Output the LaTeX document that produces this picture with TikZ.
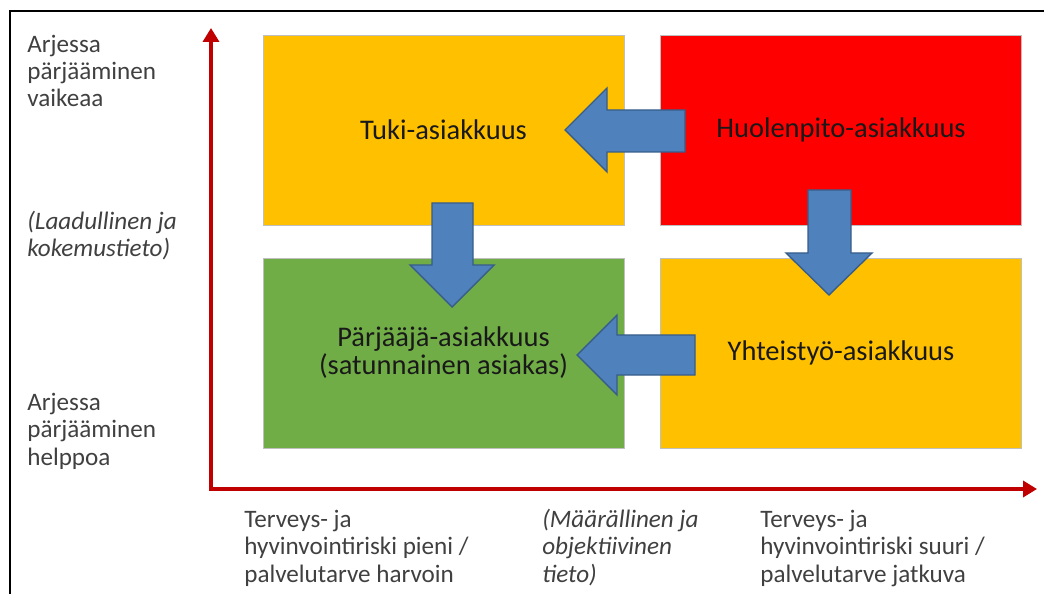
\documentclass[tikz,border=0pt]{standalone}
\usepackage{fontspec}
\setmainfont{Carlito}
\usetikzlibrary{arrows.meta}

\definecolor{oranssi}{HTML}{FFC000}
\definecolor{punainen}{HTML}{FF0000}
\definecolor{vihrea}{HTML}{70AD47}
\definecolor{nuolisini}{HTML}{4F81BD}
\definecolor{nuolireuna}{HTML}{385D8A}
\definecolor{akselipuna}{HTML}{C00000}
\definecolor{harmaa}{HTML}{404040}

\begin{document}
\begin{tikzpicture}
	[x=0.02cm,y=-0.02cm,
	laatikko/.style={draw=black!25, line width=0.4pt,
		minimum width=7.22cm, minimum height=3.8cm,
		inner sep=0pt, align=center, text=black!90,
		font=\fontsize{16.2}{16}\selectfont},
	selite/.style={anchor=base west, align=left, inner sep=0pt,
		text=harmaa, font=\fontsize{14.3}{15.4}\selectfont},
	nuoli/.style={draw=nuolireuna, fill=nuolisini, line width=0.8pt},
	akseli/.style={draw=akselipuna, line width=0.08cm,
		{Triangle[width=0.32cm,length=0.28cm]}-{Triangle[width=0.32cm,length=0.28cm]}}]

	\useasboundingbox (0,0) rectangle (1044,594);

	% kehys
	\draw[line width=1.2pt] (1044,11) -- (10,11) -- (10,594);

	%% nelikentta
	\node[laatikko, fill=oranssi]  (tuki)   at (443.5,130) {Tuki-asiakkuus};
	\node[laatikko, fill=punainen] (huolto) at (841,130)   {Huolenpito-asiakkuus};
	\node[laatikko, fill=vihrea]   (parj)   at (443.5,353) {Pärjääjä-asiakkuus\\(satunnainen asiakas)};
	\node[laatikko, fill=oranssi]  (yht)    at (841,353)   {Yhteistyö-asiakkuus};

	%% nuolet
	\draw[nuoli] (685,110) -- (607,110) -- (607,88) -- (565,130)
		-- (607,172) -- (607,152) -- (685,152) -- cycle;
	\draw[nuoli] (432,203) -- (432,265) -- (410,265) -- (452,307)
		-- (494,265) -- (473,265) -- (473,203) -- cycle;
	\draw[nuoli] (808,190) -- (808,253) -- (786,253) -- (829,295)
		-- (872,253) -- (851,253) -- (851,190) -- cycle;
	\draw[nuoli] (695,335) -- (617,335) -- (617,315) -- (577,355)
		-- (617,395) -- (617,375) -- (695,375) -- cycle;

	%% akselit
	\coordinate (origo) at (211,489);
	\coordinate (ylos)  at (211,28);
	\coordinate (oikea) at (1037,489);
	\draw[akseli] (ylos) -- (origo) -- (oikea);

	%% selitteet (ankkuri = viimeisen rivin pohjaviiva)
	\node[selite] (vaikea)  at (27,107) {Arjessa\\pärjääminen\\vaikeaa};
	\node[selite] (laadul)  at (27,257) {\itshape (Laadullinen ja\\\itshape kokemustieto)};
	\node[selite] (helppo)  at (27,465) {Arjessa\\pärjääminen\\helppoa};

	\node[selite] (pieni)   at (244,582) {Terveys- ja\\hyvinvointiriski pieni /\\palvelutarve harvoin};
	\node[selite] (maaral)  at (542,582) {\itshape (Määrällinen ja\\\itshape objektiivinen\\\itshape tieto)};
	\node[selite] (suuri)   at (760,582) {Terveys- ja\\hyvinvointiriski suuri /\\palvelutarve jatkuva};
\end{tikzpicture}
\end{document}
